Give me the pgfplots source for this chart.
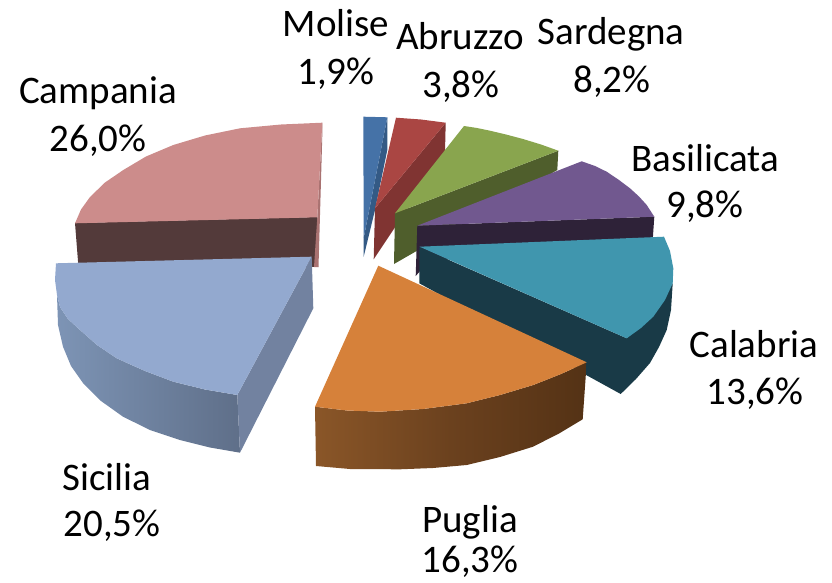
\documentclass[border=0pt]{standalone}
\usepackage{pgfplots}
\pgfplotsset{compat=1.18}
\usepackage{fontspec}
\setmainfont{Carlito}
\definecolor{cA}{HTML}{CC8C8B}\definecolor{cAd}{HTML}{533A3A}\definecolor{cAs}{HTML}{A97271}
\definecolor{cS}{HTML}{93A9CF}\definecolor{cSs}{HTML}{7282A0}\definecolor{cSl}{HTML}{7D94B5}\definecolor{cSr}{HTML}{5F6F89}
\definecolor{cO}{HTML}{D6813A}\definecolor{cOl}{HTML}{8A5628}\definecolor{cOm}{HTML}{6B411E}\definecolor{cOr}{HTML}{543215}
\definecolor{cT}{HTML}{4096AE}\definecolor{cTd}{HTML}{193A47}
\definecolor{cP}{HTML}{71588F}\definecolor{cPd}{HTML}{2E2238}
\definecolor{cG}{HTML}{89A54E}\definecolor{cGd}{HTML}{4F5E2C}
\definecolor{cR}{HTML}{AA4643}\definecolor{cRd}{HTML}{803432}
\definecolor{cB}{HTML}{4572A7}\definecolor{cBd}{HTML}{345A85}
\newcommand{\lab}[3]{\node[anchor=base,inner sep=0pt,font=\fontsize{39}{46}\selectfont] at (axis cs:#1,#2) {#3};}
\begin{document}
\begin{tikzpicture}
\useasboundingbox (0,0) rectangle (832pt,583pt);
\begin{axis}[at={(0,0)},anchor=south west,scale only axis,width=832pt,height=583pt,xmin=0,xmax=832,ymin=0,ymax=583,y dir=reverse,hide axis,clip=false,no markers]
% Campania
\addplot[fill=cAd,draw=none] coordinates {(75,223)(78.3,265)(318,267)(317.3,217)} --cycle;
\addplot[fill=cAs,draw=none] coordinates {(322.3,122.7)(322.3,135)(318.5,267)(314,267)(317.3,217.3)} --cycle;
\addplot[fill=cA,draw=none] coordinates {(322.3,122.7)(281,124.5)(240,128.3)(205,135.5)(173.3,145)(146,156.5)(123.3,170)(105,182.5)(90,197)(81,209.5)(75,223.3)(317.3,217.3)} --cycle;
% Sicilia
\addplot[left color=cSl,right color=cSr,draw=none] coordinates {(57,295)(60,307)(68,319)(80,330)(97,345)(116.7,358.3)(145,371)(173.3,381.7)(205,389.5)(237.3,395)(240,452.7)(210,447.5)(180,440)(150,430)(123,416.7)(101,401)(83,383)(71,366)(63,346.7)(58,325)} --cycle;
\addplot[fill=cSs,draw=none] coordinates {(237.3,395)(311.7,256.7)(313.3,308.3)(240,452.7)} --cycle;
\addplot[fill=cS,draw=none] coordinates {(56,263.3)(55,280)(57,295)(60,307)(68,319)(80,330)(97,345)(116.7,358.3)(145,371)(173.3,381.7)(205,389.5)(237.3,395)(311.7,256.7)} --cycle;
% Molise
\addplot[fill=cBd,draw=none] coordinates {(387.3,117.3)(387.3,150)(375,210)(363.7,256.7)(363.7,238)} --cycle;
\addplot[fill=cB,draw=none] coordinates {(363.3,116.7)(387.3,117.3)(363.7,238)} --cycle;
% Abruzzo
\addplot[fill=cRd,draw=none] coordinates {(445.7,122.7)(445,152)(373.7,259.3)(375,208.3)} --cycle;
\addplot[fill=cR,draw=none] coordinates {(396,117.7)(421,119.5)(445.7,122.7)(375,208.3)} --cycle;
% Sardegna
\addplot[fill=cGd,draw=none] coordinates {(558.3,150.7)(557.3,170)(394,264)(395,213.3)} --cycle;
\addplot[fill=cG,draw=none] coordinates {(395,213.3)(464,126)(477,128)(490,130.7)(506,134.5)(523,139)(541,144.5)(558.3,150.7)} --cycle;
% Basilicata
\addplot[fill=cPd,draw=none] coordinates {(417.3,225.7)(654.3,216.7)(652.7,240)(421,262)(421,270)(415.7,276)} --cycle;
\addplot[fill=cP,draw=none] coordinates {(417.3,225.7)(581.7,161.3)(595,166)(606.7,171.7)(619,180)(630,188.3)(639,196.5)(646.7,205)(654.3,216.7)} --cycle;
% Calabria
\addplot[fill=cTd,draw=none] coordinates {(419.5,247)(626.7,338.3)(672.7,283.3)(671,310)(666.7,330)(659,347)(650,363)(636,379)(620.7,394)(419.3,283.3)} --cycle;
\addplot[fill=cT,draw=none] coordinates {(419.5,246.7)(664,236.7)(670,251)(673.3,268.3)(672.7,283.3)(665,300)(653.3,316.7)(641,328)(626.7,338.3)} --cycle;
% Puglia
\addplot[left color=cOl,right color=cOr,middle color=cOm,draw=none] coordinates {(315,406.7)(347,410.5)(380,411.7)(423,409)(466.7,403.3)(500,395)(533.3,385)(561,374)(586.7,362.3)(582.7,419.3)(559,433.5)(533,446.7)(500,457)(466.7,465)(433,468)(400,469.3)(350,469)(316,466)} --cycle;
\addplot[fill=cO,draw=none] coordinates {(378.3,265.7)(315,406.7)(347,410.5)(380,411.7)(423,409)(466.7,403.3)(500,395)(533.3,385)(561,374)(586.7,362.3)} --cycle;
% Labels
\lab{336}{37}{Molise}\lab{336}{85}{1,9\%}
\lab{460}{50}{Abruzzo}\lab{461}{98}{3,8\%}
\lab{611}{45}{Sardegna}\lab{612}{93}{8,2\%}
\lab{705}{171}{Basilicata}\lab{705}{217}{9,8\%}
\lab{98}{104}{Campania}\lab{98}{151}{26,0\%}
\lab{754}{357}{Calabria}\lab{755}{404}{13,6\%}
\lab{107}{490}{Sicilia}\lab{112}{536}{20,5\%}
\lab{470}{532}{Puglia}\lab{470}{572}{16,3\%}
\end{axis}
\end{tikzpicture}
\end{document}
